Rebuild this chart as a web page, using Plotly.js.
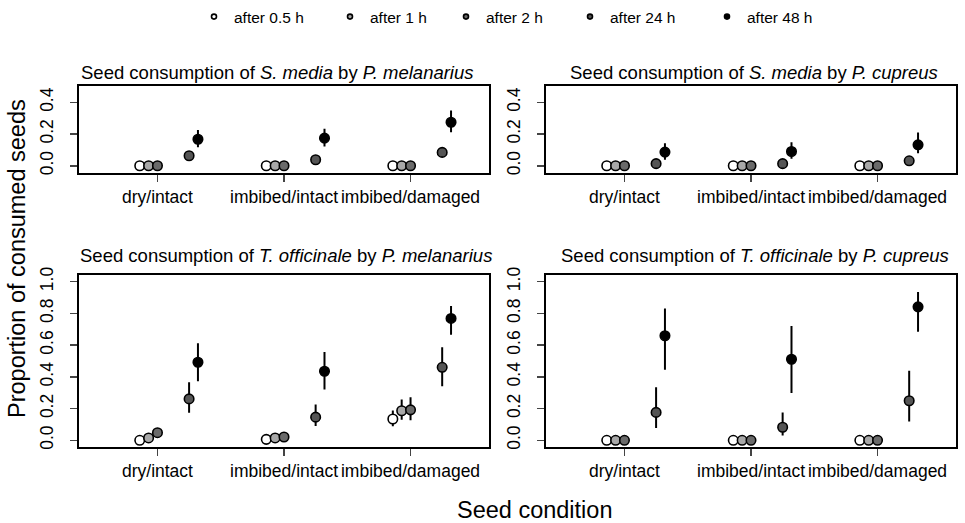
<!DOCTYPE html>
<html>
<head>
<meta charset="utf-8">
<script src="https://cdn.plot.ly/plotly-3.0.1.min.js"></script>
<style>html,body{margin:0;padding:0;background:#fff}#chart{width:965px;height:523px}</style>
</head>
<body>
<div id="chart"></div>
<script>
// ---------- data ----------
const categories = ['dry/intact', 'imbibed/intact', 'imbibed/damaged'];
const timeLabels = ['after 0.5 h', 'after 1 h', 'after 2 h', 'after 24 h', 'after 48 h'];
const panelTitles = [
  'Seed consumption of <i>S. media</i> by <i>P. melanarius</i>',
  'Seed consumption of <i>S. media</i> by <i>P. cupreus</i>',
  'Seed consumption of <i>T. officinale</i> by <i>P. melanarius</i>',
  'Seed consumption of <i>T. officinale</i> by <i>P. cupreus</i>'
];
const yTickVals = [0, 0.2, 0.4, 0.6, 0.8, 1.0];
const yTickText = ['0.0', '0.2', '0.4', '0.6', '0.8', '1.0'];

// rows: time (0.5h, 1h, 2h, 24h, 48h); columns: seed condition
const smMel_mean = [[0,0,0],[0,0,0],[0,0,0],[0.063,0.038,0.084],[0.167,0.174,0.274]];
const smMel_low  = [[0,0,0],[0,0,0],[0,0,0],[0.050,0.027,0.068],[0.117,0.121,0.211]];
const smMel_high = [[0,0,0],[0,0,0],[0,0,0],[0.078,0.052,0.102],[0.226,0.233,0.348]];

const smCup_mean = [[0,0,0],[0,0,0],[0,0,0],[0.013,0.013,0.031],[0.086,0.090,0.132]];
const smCup_low  = [[0,0,0],[0,0,0],[0,0,0],[0.005,0.005,0.018],[0.038,0.044,0.079]];
const smCup_high = [[0,0,0],[0,0,0],[0,0,0],[0.030,0.030,0.050],[0.142,0.148,0.209]];

const toMel_mean = [[0.000,0.006,0.134],[0.015,0.015,0.186],[0.048,0.021,0.192],[0.261,0.146,0.460],[0.492,0.435,0.768]];
const toMel_low  = [[0.000,0.000,0.088],[0.005,0.005,0.130],[0.025,0.010,0.126],[0.174,0.090,0.341],[0.372,0.320,0.665]];
const toMel_high = [[0.010,0.020,0.188],[0.035,0.030,0.257],[0.075,0.040,0.272],[0.366,0.226,0.586],[0.611,0.557,0.847]];

const toCup_mean = [[0,0,0],[0,0,0],[0,0,0],[0.176,0.082,0.249],[0.659,0.511,0.841]];
const toCup_low  = [[0,0,0],[0,0,0],[0,0,0],[0.078,0.031,0.119],[0.444,0.298,0.684]];
const toCup_high = [[0,0,0],[0,0,0],[0,0,0],[0.335,0.176,0.438],[0.831,0.720,0.935]];

// ---------- styling ----------
const fills = ['#ffffff', '#a8a8a8', '#6a6a6a', '#555555', '#000000'];
const offsets = [-0.14, -0.07, 0, 0.25, 0.32];
const FONT = 'Liberation Sans, Arial, sans-serif';

const panels = [
  {mean: smMel_mean, low: smMel_low, high: smMel_high, xa: 'x',  ya: 'y'},
  {mean: smCup_mean, low: smCup_low, high: smCup_high, xa: 'x2', ya: 'y2'},
  {mean: toMel_mean, low: toMel_low, high: toMel_high, xa: 'x3', ya: 'y3'},
  {mean: toCup_mean, low: toCup_low, high: toCup_high, xa: 'x4', ya: 'y4'}
];

const traces = [];
panels.forEach(p => {
  timeLabels.forEach((t, ti) => {
    const xs = categories.map((c, ci) => ci + 1 + offsets[ti]);
    const ys = p.mean[ti];
    traces.push({
      type: 'scatter', mode: 'markers', x: xs, y: ys, xaxis: p.xa, yaxis: p.ya,
      showlegend: false, hoverinfo: 'skip',
      marker: {size: 9.5, color: fills[ti], line: {color: '#000', width: 1.6}},
      error_y: {type: 'data', symmetric: false,
        array: ys.map((v, i) => p.high[ti][i] - v),
        arrayminus: ys.map((v, i) => v - p.low[ti][i]),
        color: '#000', thickness: 2, width: 0}
    });
  });
});

// legend entries (one legend per entry for R-like spacing)
const legendX = [218, 354, 470, 594, 731];
timeLabels.forEach((t, ti) => {
  traces.push({
    type: 'scatter', mode: 'markers', x: [null], y: [null], name: t,
    legend: ti === 0 ? 'legend' : 'legend' + (ti + 1),
    showlegend: true, hoverinfo: 'skip',
    marker: {size: 5, color: fills[ti], line: {color: '#000', width: 1.6}}
  });
});

const W = 965, H = 523;
const xl = [79 / W, 489 / W], xr = [546 / W, 956 / W];
const yt = [1 - 172 / H, 1 - 84 / H], yb = [1 - 447 / H, 1 - 274 / H];

function xaxis(dom, anchor) {
  return {domain: dom, anchor: anchor, range: [0.38, 3.62], tickmode: 'array',
    tickvals: [1, 2, 3], ticktext: categories, tickangle: 0, ticks: 'outside', ticklen: 7, tickwidth: 1.6,
    showline: true, mirror: true, linewidth: 1.8, linecolor: '#000', showgrid: false,
    zeroline: false, tickfont: {size: 17.5, color: '#000'}, fixedrange: true};
}
function yaxis(dom, anchor, range) {
  return {domain: dom, anchor: anchor, range: range, tickmode: 'array',
    tickvals: yTickVals, ticktext: yTickText, tickangle: -90, ticks: 'outside', ticklen: 7,
    tickwidth: 1.6, showline: true, mirror: true, linewidth: 1.8, linecolor: '#000',
    showgrid: false, zeroline: false, tickfont: {size: 17.5, color: '#000'},
    ticklabelstandoff: 10, fixedrange: true};
}

const legendBase = {orientation: 'h', xanchor: 'left', yanchor: 'middle', y: 1 - 15 / H,
  font: {size: 15.5, color: '#000', family: FONT}, bgcolor: 'rgba(0,0,0,0)', borderwidth: 0};
const layout = {
  width: W, height: H, margin: {l: 0, r: 0, t: 0, b: 0},
  paper_bgcolor: '#fff', plot_bgcolor: '#fff',
  font: {family: FONT, color: '#000'},
  xaxis: xaxis(xl, 'y'), yaxis: yaxis(yt, 'x', [-0.048, 0.505]),
  xaxis2: xaxis(xr, 'y2'), yaxis2: yaxis(yt, 'x2', [-0.048, 0.505]),
  xaxis3: xaxis(xl, 'y3'), yaxis3: yaxis(yb, 'x3', [-0.044, 1.042]),
  xaxis4: xaxis(xr, 'y4'), yaxis4: yaxis(yb, 'x4', [-0.044, 1.042]),
  annotations: [
    {text: panelTitles[0], xref: 'paper', yref: 'paper', x: 277 / W, y: 1 - 71 / H, showarrow: false, xanchor: 'center', yanchor: 'middle', font: {size: 18.5}},
    {text: panelTitles[1], xref: 'paper', yref: 'paper', x: 754 / W, y: 1 - 71 / H, showarrow: false, xanchor: 'center', yanchor: 'middle', font: {size: 18.5}},
    {text: panelTitles[2], xref: 'paper', yref: 'paper', x: 286 / W, y: 1 - 254 / H, showarrow: false, xanchor: 'center', yanchor: 'middle', font: {size: 18.5}},
    {text: panelTitles[3], xref: 'paper', yref: 'paper', x: 755 / W, y: 1 - 254 / H, showarrow: false, xanchor: 'center', yanchor: 'middle', font: {size: 18.5}},
    {text: 'Proportion of consumed seeds', xref: 'paper', yref: 'paper', x: 17 / W, y: 1 - 258 / H, textangle: -90, showarrow: false, xanchor: 'center', yanchor: 'middle', font: {size: 23.5}},
    {text: 'Seed condition', xref: 'paper', yref: 'paper', x: 534 / W, y: 1 - 510 / H, showarrow: false, xanchor: 'center', yanchor: 'middle', font: {size: 23.5}}
  ]
};
legendX.forEach((lx, i) => {
  const key = i === 0 ? 'legend' : 'legend' + (i + 1);
  layout[key] = Object.assign({}, legendBase, {x: (lx - 24) / W});
});

Plotly.newPlot('chart', traces, layout, {staticPlot: true, displayModeBar: false});
</script>
</body>
</html>
